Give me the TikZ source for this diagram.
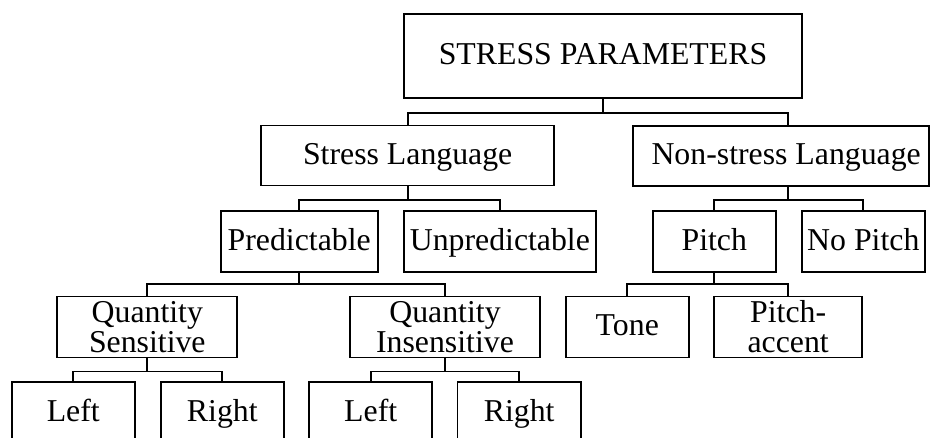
\documentclass[tikz,border=0pt]{standalone}
\usepackage{fontspec}
\setmainfont{Liberation Serif}
\begin{document}
\begin{tikzpicture}[x=1pt,y=-1pt,
  box/.style={draw, line width=1.8pt, inner sep=0pt, font=\fontsize{31.8}{30}\selectfont, text height=21.5pt, text depth=4pt},
  boxtwo/.style={draw, line width=1.8pt, inner sep=0pt, font=\fontsize{31.8}{30}\selectfont, align=center},
  conn/.style={line width=1.8pt}]
\useasboundingbox (0,0) rectangle (930,438);
\clip (0,0) rectangle (930,438);
% level 0
\node[box, minimum width=398.4pt, minimum height=84.3pt] (root) at (603,56.2) {STRESS PARAMETERS};
% level 1
\node[box, minimum width=293.3pt, minimum height=60pt] (sl) at (407.7,155.5) {Stress Language};
\node[box, minimum width=295.7pt, minimum height=60pt] (ns) at (781.2,155.7) {\hspace*{10pt}Non-stress Language};
% level 2
\node[box, minimum width=157pt, minimum height=60.7pt] (pred) at (299.2,241.3) {Predictable};
\node[box, minimum width=191.7pt, minimum height=60.7pt] (unpred) at (499.85,241.3) {Unpredictable};
\node[box, minimum width=123.3pt, minimum height=60.7pt] (pitch) at (714.3,241.3) {Pitch};
\node[box, minimum width=123.3pt, minimum height=60.7pt] (nopitch) at (863.3,241.3) {No Pitch};
% level 3
\node[boxtwo, minimum width=180pt, minimum height=61pt] (qs) at (147.3,327.1) {Quantity\\Sensitive};
\node[boxtwo, minimum width=190pt, minimum height=61pt] (qi) at (445,327.1) {Quantity\\Insensitive};
\node[box, minimum width=123.3pt, minimum height=61pt] (tone) at (627.3,327.1) {Tone};
\node[boxtwo, minimum width=148.3pt, minimum height=61pt] (pa) at (788.2,327.1) {Pitch-\\accent};
% level 4
\node[box, minimum width=123.3pt, minimum height=61pt] (l1) at (73.3,412.5) {Left};
\node[box, minimum width=123.3pt, minimum height=61pt] (r1) at (222.3,412.5) {Right};
\node[box, minimum width=123.3pt, minimum height=61pt] (l2) at (370.7,412.5) {Left};
\node[box, minimum width=123.3pt, minimum height=61pt] (r2) at (519.2,412.5) {Right};
% connectors
\draw[conn] (root.south) -- ++(0,13.4) -| (sl.north);
\draw[conn] (root.south) -- ++(0,13.4) -| ([xshift=7.1pt]ns.north);
\draw[conn] (sl.south) -- ++(0,13.5) -| (pred.north);
\draw[conn] (sl.south) -- ++(0,13.5) -| (unpred.north);
\draw[conn] ([xshift=7.1pt]ns.south) -- ++(0,13.3) -| (pitch.north);
\draw[conn] ([xshift=7.1pt]ns.south) -- ++(0,13.3) -| (nopitch.north);
\draw[conn] (pred.south) -- ++(0,11.8) -| (qs.north);
\draw[conn] (pred.south) -- ++(0,11.8) -| (qi.north);
\draw[conn] (pitch.south) -- ++(0,11.8) -| (tone.north);
\draw[conn] (pitch.south) -- ++(0,11.8) -| (pa.north);
\draw[conn] (qs.south) -- ++(0,13) -| (l1.north);
\draw[conn] (qs.south) -- ++(0,13) -| (r1.north);
\draw[conn] (qi.south) -- ++(0,13) -| (l2.north);
\draw[conn] (qi.south) -- ++(0,13) -| (r2.north);
\end{tikzpicture}
\end{document}
